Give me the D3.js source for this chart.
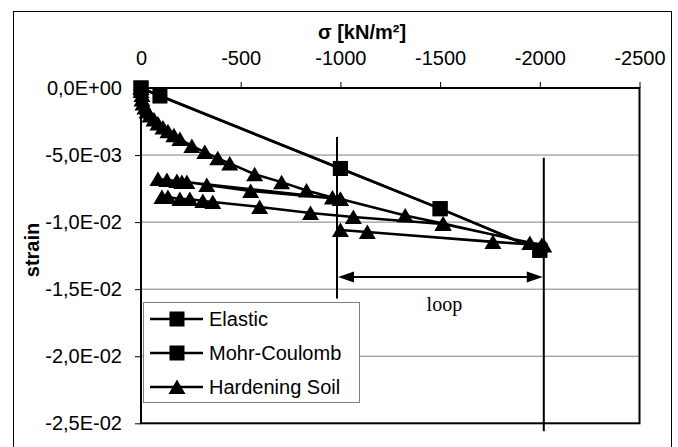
<!DOCTYPE html>
<html>
<head>
<meta charset="utf-8">
<script src="https://cdn.jsdelivr.net/npm/d3@7"></script>
<style>
  body { margin: 0; background: #fff; }
  svg { display: block; }
</style>
</head>
<body>
<div id="chart"></div>
<script>
/*global d3*/

// axis ticks
var sigmaTicks = [0, -500, -1000, -1500, -2000, -2500];
var sigmaLabels = ["0", "-500", "-1000", "-1500", "-2000", "-2500"];
var strainTicks = [0, -0.005, -0.01, -0.015, -0.02, -0.025];
var strainLabels = ["0,0E+00", "-5,0E-03", "-1,0E-02", "-1,5E-02", "-2,0E-02", "-2,5E-02"];

// series
var seriesNames = ["Elastic", "Mohr-Coulomb", "Hardening Soil"];

var elasticSigma = [0, -1000, -1500, -2000];
var elasticStrain = [0, -0.0060, -0.0090, -0.0121];

var mcSigma = [0, -95, -1000, -1500, -2000];
var mcStrain = [0, -0.0006, -0.0060, -0.0090, -0.0121];

// loading, unload to -100, reload, loop between -1000 and -2000, final unload
var hsSigma = [0, 0, -5, -5, -10, -20, -30, -45, -65, -85, -110, -135, -165, -195, -255, -320, -385, -445, -570, -705, -830, -960, -1000,
  -550, -330, -230, -205, -180, -130, -85,
  -1000, -1325, -1515, -1950, -2010,
  -1765, -1135, -1000,
  -2020,
  -1515, -1065, -850, -595, -360, -310, -245, -195, -135, -105];
var hsStrain = [0, -0.00022, -0.00052, -0.00085, -0.00115, -0.00145, -0.00175, -0.00205, -0.00235, -0.00265, -0.00295, -0.00322, -0.00352, -0.00380, -0.00432, -0.00478, -0.00524, -0.00562, -0.00643, -0.00702, -0.00764, -0.00816, -0.00828,
  -0.00768, -0.00723, -0.00701, -0.00701, -0.00693, -0.00686, -0.00678,
  -0.00828, -0.00950, -0.01010, -0.01156, -0.01170,
  -0.01148, -0.01074, -0.01059,
  -0.01175,
  -0.01014, -0.00962, -0.00932, -0.00887, -0.00850, -0.00842, -0.00828, -0.00828, -0.00813, -0.00813];

// loop annotation
var loopFrom = -983, loopTo = -2020;
var loopLine1 = [-0.00365, -0.0157];
var loopLine2 = [-0.0052, -0.0256];
var loopArrowStrain = -0.0141;

var width = 678, height = 447;
var font = "'Liberation Sans', Arial, sans-serif";

var svg = d3.select("#chart").append("svg")
  .attr("width", width)
  .attr("height", height);

// outer chart frame
svg.append("rect")
  .attr("x", 13.5).attr("y", 11.5)
  .attr("width", 658).attr("height", 460)
  .style("fill", "#fff")
  .style("stroke", "#000")
  .style("stroke-width", 1);

var x = d3.scaleLinear().domain([0, -2500]).range([141, 639.5]);
var y = d3.scaleLinear().domain([0, -0.025]).range([88, 423.3]);

// gridlines
svg.append("g")
  .selectAll("line")
  .data(strainTicks.slice(1, -1))
  .enter()
  .append("line")
  .attr("x1", x(0)).attr("x2", x(-2500))
  .attr("y1", function(d){ return y(d); })
  .attr("y2", function(d){ return y(d); })
  .style("stroke", "#808080")
  .style("stroke-width", 1);

// plot frame
svg.append("rect")
  .attr("x", x(0)).attr("y", y(0))
  .attr("width", x(-2500) - x(0))
  .attr("height", y(-0.025) - y(0))
  .style("fill", "none")
  .style("stroke", "#000")
  .style("stroke-width", 2);

// axes
var xAxis = d3.axisTop(x)
  .tickValues(sigmaTicks)
  .tickSize(6)
  .tickSizeOuter(0)
  .tickPadding(17)
  .tickFormat(function(d, i){ return sigmaLabels[i]; });

var gx = svg.append("g")
  .attr("transform", "translate(0," + y(0) + ")")
  .call(xAxis);
gx.select(".domain").remove();
gx.selectAll("line").style("stroke", "#000").style("stroke-width", 1);
gx.selectAll("text")
  .style("font-family", font)
  .style("font-size", "20px")
  .style("fill", "#000");

var yAxis = d3.axisLeft(y)
  .tickValues(strainTicks)
  .tickSize(6)
  .tickSizeOuter(0)
  .tickPadding(13)
  .tickFormat(function(d, i){ return strainLabels[i]; });

var gy = svg.append("g")
  .attr("transform", "translate(" + x(0) + ",0)")
  .call(yAxis);
gy.select(".domain").remove();
gy.selectAll("line").style("stroke", "#000").style("stroke-width", 1);
gy.selectAll("text")
  .style("font-family", font)
  .style("font-size", "20px")
  .style("fill", "#000");

// axis titles
svg.append("text")
  .attr("x", 362)
  .attr("y", 39)
  .attr("text-anchor", "middle")
  .style("font-family", font)
  .style("font-size", "20px")
  .style("font-weight", "bold")
  .text("σ [kN/m²]");

svg.append("text")
  .attr("transform", "translate(39,250) rotate(-90)")
  .attr("text-anchor", "middle")
  .style("font-family", font)
  .style("font-size", "20px")
  .style("font-weight", "bold")
  .text("strain");

// series lines
var line = d3.line()
  .x(function(d){ return x(d[0]); })
  .y(function(d){ return y(d[1]); });

var elastic = d3.zip(elasticSigma, elasticStrain);
var mc = d3.zip(mcSigma, mcStrain);
var hs = d3.zip(hsSigma, hsStrain);

[elastic, mc, hs].forEach(function(pts){
  svg.append("path")
    .datum(pts)
    .attr("d", line)
    .style("fill", "none")
    .style("stroke", "#000")
    .style("stroke-width", 2.5)
    .style("stroke-linejoin", "round");
});

var squareSize = 15;
var triPath = "M0,-7.5L8.5,7L-8.5,7Z";

function squares(pts) {
  svg.append("g").selectAll("rect")
    .data(pts)
    .enter()
    .append("rect")
    .attr("x", function(d){ return x(d[0]) - squareSize / 2; })
    .attr("y", function(d){ return y(d[1]) - squareSize / 2; })
    .attr("width", squareSize)
    .attr("height", squareSize)
    .style("fill", "#000");
}
squares(elastic);
squares(mc);

svg.append("g").selectAll("path")
  .data(hs)
  .enter()
  .append("path")
  .attr("d", triPath)
  .attr("transform", function(d){ return "translate(" + x(d[0]) + "," + y(d[1]) + ")"; })
  .style("fill", "#000");

// loop annotation
svg.append("line")
  .attr("x1", x(loopFrom)).attr("x2", x(loopFrom))
  .attr("y1", y(loopLine1[0])).attr("y2", y(loopLine1[1]))
  .style("stroke", "#000").style("stroke-width", 2);
svg.append("line")
  .attr("x1", x(loopTo)).attr("x2", x(loopTo))
  .attr("y1", y(loopLine2[0])).attr("y2", y(loopLine2[1]))
  .style("stroke", "#000").style("stroke-width", 2);

var ay = y(loopArrowStrain), ax1 = x(loopFrom) + 1, ax2 = x(loopTo) - 1;
svg.append("line")
  .attr("x1", ax1 + 10).attr("x2", ax2 - 10)
  .attr("y1", ay).attr("y2", ay)
  .style("stroke", "#000").style("stroke-width", 2);
svg.append("path")
  .attr("d", "M" + ax1 + "," + ay + "l16,-5.5l0,11z")
  .style("fill", "#000");
svg.append("path")
  .attr("d", "M" + ax2 + "," + ay + "l-16,-5.5l0,11z")
  .style("fill", "#000");

svg.append("text")
  .attr("x", (x(loopFrom) + x(loopTo)) / 2 + 4)
  .attr("y", 311)
  .attr("text-anchor", "middle")
  .style("font-family", "'Liberation Serif', 'Times New Roman', serif")
  .style("font-size", "20px")
  .text("loop");

// legend
var legend = svg.append("g");
legend.append("rect")
  .attr("x", 143.5).attr("y", 302.5)
  .attr("width", 216).attr("height", 100)
  .style("fill", "#fff")
  .style("stroke", "#808080")
  .style("stroke-width", 1);

var legendY = [319, 353, 387];
seriesNames.forEach(function(name, i){
  var ly = legendY[i];
  legend.append("line")
    .attr("x1", 150).attr("x2", 203)
    .attr("y1", ly).attr("y2", ly)
    .style("stroke", "#000").style("stroke-width", 2.5);
  if (i < 2) {
    legend.append("rect")
      .attr("x", 177 - squareSize / 2).attr("y", ly - squareSize / 2)
      .attr("width", squareSize).attr("height", squareSize)
      .style("fill", "#000");
  } else {
    legend.append("path")
      .attr("d", triPath)
      .attr("transform", "translate(177," + ly + ")")
      .style("fill", "#000");
  }
  legend.append("text")
    .attr("x", 209)
    .attr("y", ly + 7)
    .style("font-family", font)
    .style("font-size", "20px")
    .text(name);
});
</script>
</body>
</html>
